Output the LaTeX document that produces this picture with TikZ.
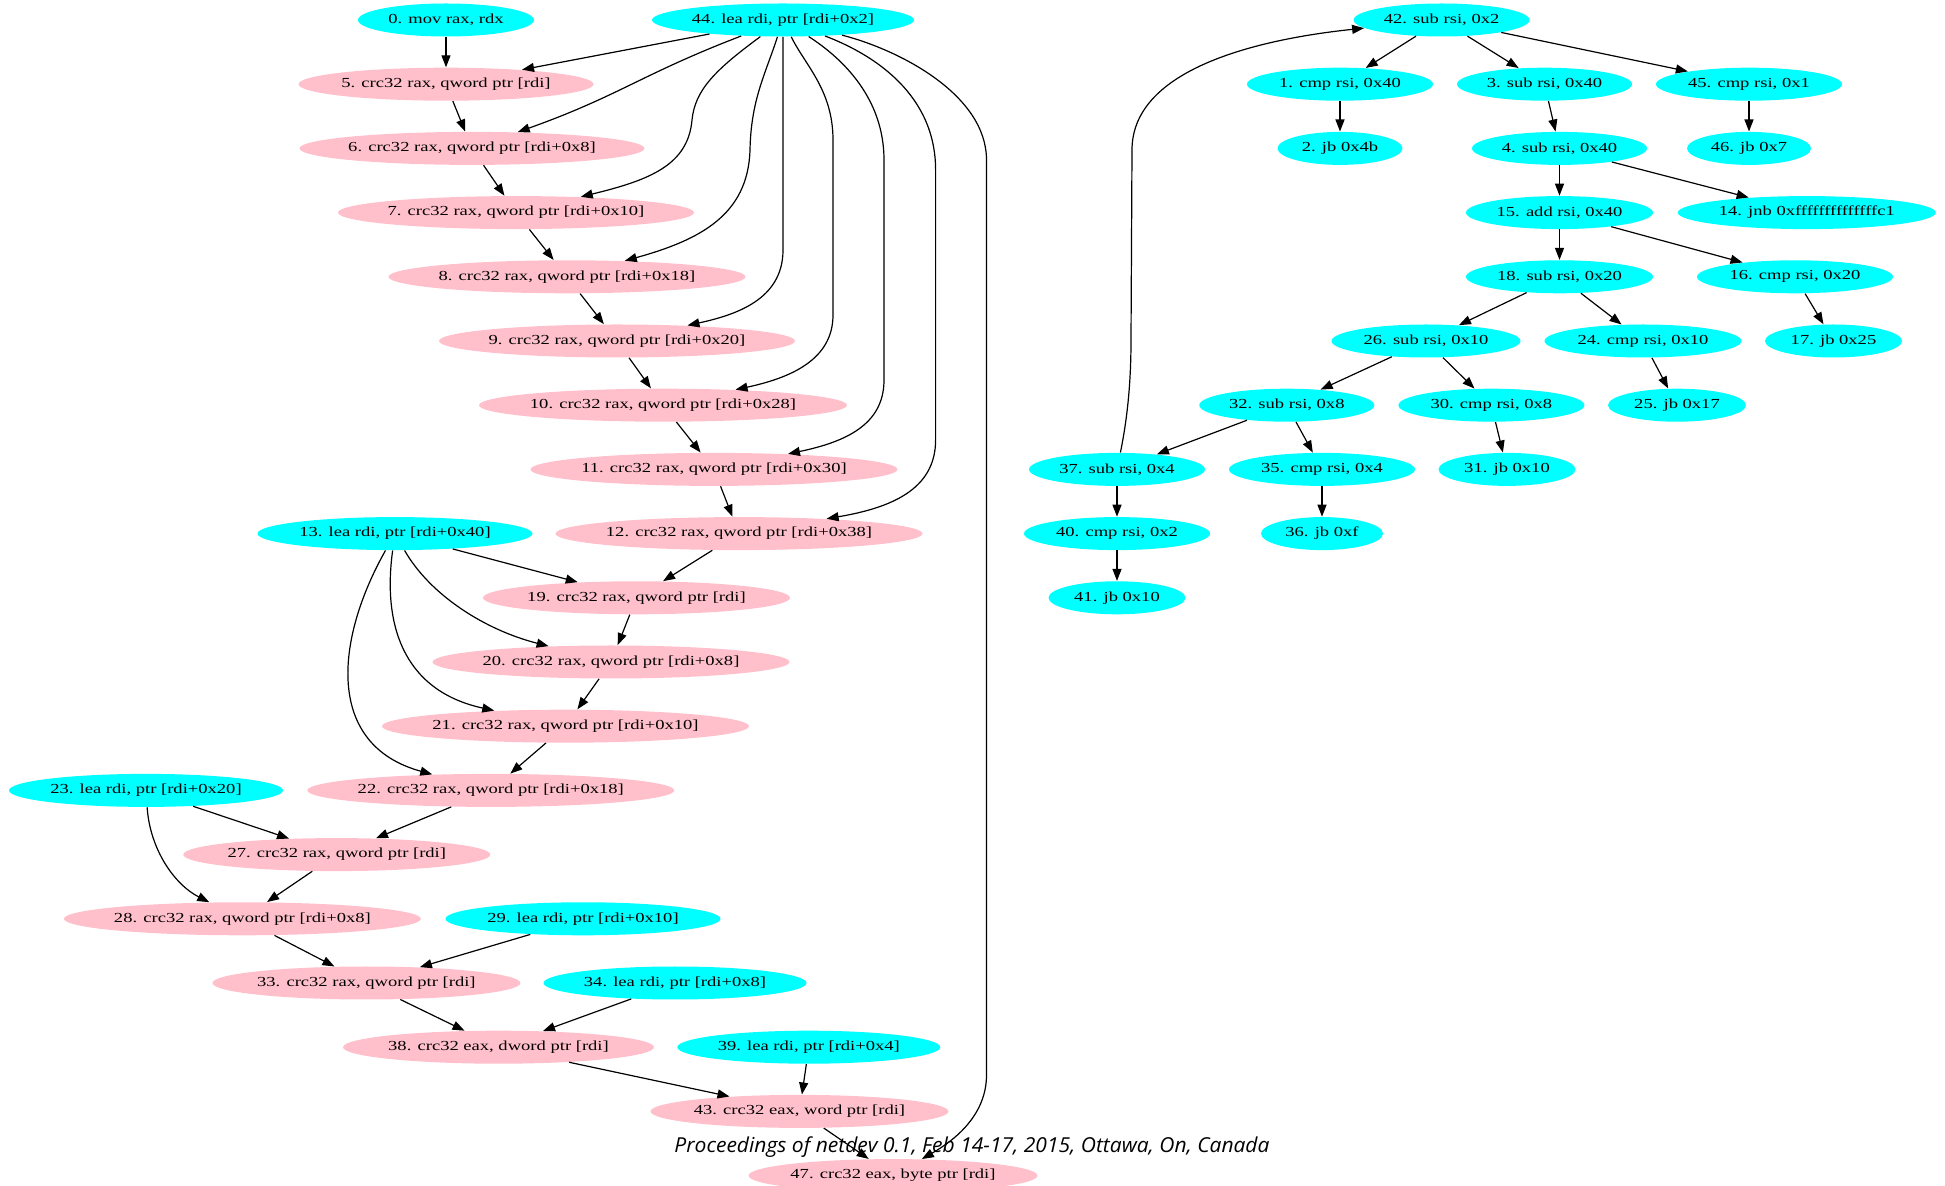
\documentclass[tikz,border=0pt]{standalone}
\usepackage{fontspec}
\setmainfont{Liberation Serif}
\newfontfamily\capfont{Open Sans}
\usetikzlibrary{shapes.geometric,arrows.meta}
\definecolor{gvcyan}{HTML}{00FFFF}
\definecolor{gvpink}{HTML}{FFC0CB}
\newcommand\gvlbl[1]{\makebox[0pt]{\scalebox{1.345}[1]{#1}}}
\begin{document}
\begin{tikzpicture}[x=0.5pt,y=-0.5pt,
  gnode/.style={ellipse, inner sep=0pt, minimum height=16.5pt, font=\fontsize{6.9pt}{8pt}\selectfont},
  cy/.style={gnode, fill=gvcyan},
  pk/.style={gnode, fill=gvpink},
  gedge/.style={-{Triangle[length=6pt,width=4.5pt]}, line width=0.6pt},
]
\useasboundingbox (0,0) rectangle (1945,1186);
% left graph
\node[cy, minimum width=88pt] (n0) at (446,20) {\gvlbl{0. mov rax, rdx}};
\node[cy, minimum width=131pt] (n44) at (783,20) {\gvlbl{44. lea rdi, ptr [rdi+0x2]}};
\node[pk, minimum width=147.5pt] (n5) at (446,84.2) {\gvlbl{5. crc32 rax, qword ptr [rdi]}};
\node[pk, minimum width=172.5pt] (n6) at (472,148.4) {\gvlbl{6. crc32 rax, qword ptr [rdi+0x8]}};
\node[pk, minimum width=178pt] (n7) at (516,212.6) {\gvlbl{7. crc32 rax, qword ptr [rdi+0x10]}};
\node[pk, minimum width=178.5pt] (n8) at (567,276.8) {\gvlbl{8. crc32 rax, qword ptr [rdi+0x18]}};
\node[pk, minimum width=178pt] (n9) at (617,341) {\gvlbl{9. crc32 rax, qword ptr [rdi+0x20]}};
\node[pk, minimum width=184pt] (n10) at (663,405.2) {\gvlbl{10. crc32 rax, qword ptr [rdi+0x28]}};
\node[pk, minimum width=183.5pt] (n11) at (714,469.4) {\gvlbl{11. crc32 rax, qword ptr [rdi+0x30]}};
\node[pk, minimum width=183.5pt] (n12) at (739,533.6) {\gvlbl{12. crc32 rax, qword ptr [rdi+0x38]}};
\node[cy, minimum width=137.5pt] (n13) at (395,533.6) {\gvlbl{13. lea rdi, ptr [rdi+0x40]}};
\node[pk, minimum width=153.5pt] (n19) at (636.5,597.8) {\gvlbl{19. crc32 rax, qword ptr [rdi]}};
\node[pk, minimum width=178.5pt] (n20) at (611,662) {\gvlbl{20. crc32 rax, qword ptr [rdi+0x8]}};
\node[pk, minimum width=183.5pt] (n21) at (565.5,726.2) {\gvlbl{21. crc32 rax, qword ptr [rdi+0x10]}};
\node[pk, minimum width=183.5pt] (n22) at (490.8,790.4) {\gvlbl{22. crc32 rax, qword ptr [rdi+0x18]}};
\node[cy, minimum width=137pt] (n23) at (146,790.4) {\gvlbl{23. lea rdi, ptr [rdi+0x20]}};
\node[pk, minimum width=153.5pt] (n27) at (336.8,854.6) {\gvlbl{27. crc32 rax, qword ptr [rdi]}};
\node[pk, minimum width=178.5pt] (n28) at (242.4,918.8) {\gvlbl{28. crc32 rax, qword ptr [rdi+0x8]}};
\node[cy, minimum width=137.5pt] (n29) at (583,918.8) {\gvlbl{29. lea rdi, ptr [rdi+0x10]}};
\node[pk, minimum width=154pt] (n33) at (366.4,983) {\gvlbl{33. crc32 rax, qword ptr [rdi]}};
\node[cy, minimum width=131.5pt] (n34) at (675,983) {\gvlbl{34. lea rdi, ptr [rdi+0x8]}};
\node[pk, minimum width=155.5pt] (n38) at (498.5,1047.2) {\gvlbl{38. crc32 eax, dword ptr [rdi]}};
\node[cy, minimum width=131.5pt] (n39) at (808.8,1047.2) {\gvlbl{39. lea rdi, ptr [rdi+0x4]}};
\node[pk, minimum width=149pt] (n43) at (799.5,1111.4) {\gvlbl{43. crc32 eax, word ptr [rdi]}};
\node[pk, minimum width=144.5pt] (n47) at (893,1175.6) {\gvlbl{47. crc32 eax, byte ptr [rdi]}};
% right graph
\node[cy, minimum width=88pt] (n42) at (1441.6,20) {\gvlbl{42. sub rsi, 0x2}};
\node[cy, minimum width=93pt] (n1) at (1340,84.2) {\gvlbl{1. cmp rsi, 0x40}};
\node[cy, minimum width=87.5pt] (n3) at (1544.5,84.2) {\gvlbl{3. sub rsi, 0x40}};
\node[cy, minimum width=93pt] (n45) at (1749,84.2) {\gvlbl{45. cmp rsi, 0x1}};
\node[cy, minimum width=62.5pt] (n2) at (1340,148.4) {\gvlbl{2. jb 0x4b}};
\node[cy, minimum width=87.5pt] (n4) at (1559.5,148.4) {\gvlbl{4. sub rsi, 0x40}};
\node[cy, minimum width=62pt] (n46) at (1749,148.4) {\gvlbl{46. jb 0x7}};
\node[cy, minimum width=93.5pt] (n15) at (1559.5,212.6) {\gvlbl{15. add rsi, 0x40}};
\node[cy, minimum width=129pt] (n14) at (1806.8,212.6) {\gvlbl{14. jnb 0xffffffffffffffc1}};
\node[cy, minimum width=93.5pt] (n18) at (1559.5,276.8) {\gvlbl{18. sub rsi, 0x20}};
\node[cy, minimum width=98pt] (n16) at (1795,276.8) {\gvlbl{16. cmp rsi, 0x20}};
\node[cy, minimum width=94.5pt] (n26) at (1426,341) {\gvlbl{26. sub rsi, 0x10}};
\node[cy, minimum width=98.5pt] (n24) at (1643,341) {\gvlbl{24. cmp rsi, 0x10}};
\node[cy, minimum width=68.5pt] (n17) at (1833.5,341) {\gvlbl{17. jb 0x25}};
\node[cy, minimum width=87.5pt] (n32) at (1286.8,405.2) {\gvlbl{32. sub rsi, 0x8}};
\node[cy, minimum width=93pt] (n30) at (1491.4,405.2) {\gvlbl{30. cmp rsi, 0x8}};
\node[cy, minimum width=69pt] (n25) at (1677,405.2) {\gvlbl{25. jb 0x17}};
\node[cy, minimum width=88pt] (n37) at (1117,469.4) {\gvlbl{37. sub rsi, 0x4}};
\node[cy, minimum width=93pt] (n35) at (1322,469.4) {\gvlbl{35. cmp rsi, 0x4}};
\node[cy, minimum width=68.5pt] (n31) at (1507,469.4) {\gvlbl{31. jb 0x10}};
\node[cy, minimum width=93pt] (n40) at (1117,533.6) {\gvlbl{40. cmp rsi, 0x2}};
\node[cy, minimum width=61pt] (n36) at (1322,533.6) {\gvlbl{36. jb 0xf}};
\node[cy, minimum width=68.5pt] (n41) at (1117,597.8) {\gvlbl{41. jb 0x10}};
% left edges
\draw[gedge] (n0) -- (n5);
\draw[gedge] (n44) -- (n5);
\draw[gedge] (n44) .. controls (642,74) and (619,96) .. (n6);
\draw[gedge] (n44) .. controls (715,70) and (695,90) .. (692,120) .. controls (688,165) and (650,180) .. (n7);
\draw[gedge] (n44) .. controls (765,75) and (751,100) .. (750,150) .. controls (748,215) and (700,240) .. (n8);
\draw[gedge] (n44) -- (783,250) .. controls (783,300) and (735,315) .. (n9);
\draw[gedge] (n44) .. controls (805,65) and (833,90) .. (833,140) -- (833,315) .. controls (833,360) and (790,378) .. (n10);
\draw[gedge] (n44) .. controls (845,60) and (884,100) .. (884,160) -- (884,380) .. controls (884,425) and (845,442) .. (n11);
\draw[gedge] (n44) .. controls (875,55) and (935.6,95) .. (935.6,170) -- (935.6,440) .. controls (935.6,490) and (890,508) .. (n12);
\draw[gedge] (n44) .. controls (900,50) and (986.5,95) .. (986.5,160) -- (986.5,1075) .. controls (986.5,1115) and (955,1140) .. (n47);
\draw[gedge] (n5) -- (n6);
\draw[gedge] (n6) -- (n7);
\draw[gedge] (n7) -- (n8);
\draw[gedge] (n8) -- (n9);
\draw[gedge] (n9) -- (n10);
\draw[gedge] (n10) -- (n11);
\draw[gedge] (n11) -- (n12);
\draw[gedge] (n12) -- (n19);
\draw[gedge] (n13) -- (n19);
\draw[gedge] (n13) .. controls (430,595) and (485,630) .. (n20);
\draw[gedge] (n13) .. controls (383,620) and (400,690) .. (n21);
\draw[gedge] (n13) .. controls (335,640) and (325,745) .. (n22);
\draw[gedge] (n19) -- (n20);
\draw[gedge] (n20) -- (n21);
\draw[gedge] (n21) -- (n22);
\draw[gedge] (n22) -- (n27);
\draw[gedge] (n23) -- (n27);
\draw[gedge] (n23) .. controls (150,850) and (175,885) .. (n28);
\draw[gedge] (n27) -- (n28);
\draw[gedge] (n28) -- (n33);
\draw[gedge] (n29) -- (n33);
\draw[gedge] (n33) -- (n38);
\draw[gedge] (n34) -- (n38);
\draw[gedge] (n38) -- (n43);
\draw[gedge] (n39) -- (n43);
\draw[gedge] (n43) -- (n47);
% right edges
\draw[gedge] (n42) -- (n1);
\draw[gedge] (n42) -- (n3);
\draw[gedge] (n42) -- (n45);
\draw[gedge] (n1) -- (n2);
\draw[gedge] (n3) -- (n4);
\draw[gedge] (n45) -- (n46);
\draw[gedge] (n4) -- (n15);
\draw[gedge] (n4) -- (n14);
\draw[gedge] (n15) -- (n18);
\draw[gedge] (n15) -- (n16);
\draw[gedge] (n18) -- (n26);
\draw[gedge] (n18) -- (n24);
\draw[gedge] (n16) -- (n17);
\draw[gedge] (n26) -- (n32);
\draw[gedge] (n26) -- (n30);
\draw[gedge] (n24) -- (n25);
\draw[gedge] (n32) -- (n37);
\draw[gedge] (n32) -- (n35);
\draw[gedge] (n30) -- (n31);
\draw[gedge] (n37) -- (n40);
\draw[gedge] (n35) -- (n36);
\draw[gedge] (n40) -- (n41);
\draw[gedge] (n37) .. controls (1127,420) and (1131,385) .. (1131,340) -- (1132,150) .. controls (1132,65) and (1270,38) .. (n42);
% caption
\node[anchor=base, inner sep=0pt] (cap) at (972,1152) {\resizebox{297.5pt}{\height}{\fontsize{10.3pt}{12pt}\selectfont\capfont\itshape Proceedings of netdev 0.1, Feb 14-17, 2015, Ottawa, On, Canada}};
\end{tikzpicture}
\end{document}
